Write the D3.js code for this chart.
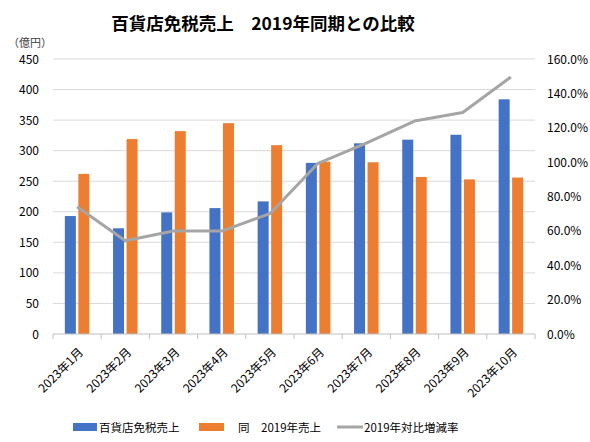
<!DOCTYPE html>
<html><head><meta charset="utf-8">
<script src="https://cdn.jsdelivr.net/npm/d3@7"></script>
<style>body{margin:0;background:#fff}svg{display:block}text{font-family:"Noto Sans CJK JP","Noto Sans",sans-serif}</style>
</head><body>
<svg id="c" width="590" height="442"></svg>
<script>
const categories = ["2023年1月","2023年2月","2023年3月","2023年4月","2023年5月","2023年6月","2023年7月","2023年8月","2023年9月","2023年10月"];
const sales2023 = [193, 173, 199, 206, 217, 280, 312, 318, 326, 384];
const sales2019 = [262, 319, 332, 345, 309, 282, 281, 257, 253, 256];
const ratio = [0.74, 0.543, 0.599, 0.599, 0.70, 0.993, 1.11, 1.239, 1.289, 1.495];
const leftTicks = [0,50,100,150,200,250,300,350,400,450];
const rightTicks = [0,0.2,0.4,0.6,0.8,1.0,1.2,1.4,1.6];
const seriesNames = ["百貨店免税売上","同　2019年売上","2019年対比増減率"];
const colors = ["#4472C4","#ED7D31","#A5A5A5"];

const svg = d3.select("#c");
const L = 53, R = 535, T = 59, B = 334;
const x = d3.scaleBand().domain(categories).range([L, R]);
const y = d3.scaleLinear().domain([0, 450]).range([B, T]);
const y2 = d3.scaleLinear().domain([0, 1.6]).range([B, T]);

svg.append("text").attr("x", 263).attr("y", 30).attr("text-anchor","middle")
  .attr("font-size", 17.5).attr("font-weight","bold").attr("fill","#000")
  .text("百貨店免税売上　2019年同期との比較");
svg.append("text").attr("x", 8).attr("y", 47).attr("font-size", 11).attr("fill","#404040").text("（億円）");

// grid
svg.append("g").selectAll("line").data(leftTicks.filter(d=>d>0)).join("line")
  .attr("x1", L).attr("x2", R).attr("y1", d=>y(d)).attr("y2", d=>y(d))
  .attr("stroke","#d9d9d9").attr("stroke-width",1);

// left axis labels
svg.append("g").selectAll("text").data(leftTicks).join("text")
  .attr("x", 39).attr("y", d=>y(d)+4.5).attr("text-anchor","end")
  .attr("font-size", 12).attr("fill","#000").text(d=>d);
// right axis labels
svg.append("g").selectAll("text").data(rightTicks).join("text")
  .attr("x", 547).attr("y", d=>y2(d)+4.5).attr("text-anchor","start")
  .attr("font-size", 12).attr("fill","#000").text(d=>(d*100).toFixed(1)+"%");

// bars
const bw = 11, gap = 2.5;
const g = svg.append("g");
g.selectAll("rect.a").data(categories).join("rect").attr("class","a")
  .attr("x", d=>x(d)+x.bandwidth()/2 - gap/2 - bw)
  .attr("y", (d,i)=>y(sales2023[i])).attr("width", bw)
  .attr("height", (d,i)=>B - y(sales2023[i])).attr("fill", colors[0]);
g.selectAll("rect.b").data(categories).join("rect").attr("class","b")
  .attr("x", d=>x(d)+x.bandwidth()/2 + gap/2)
  .attr("y", (d,i)=>y(sales2019[i])).attr("width", bw)
  .attr("height", (d,i)=>B - y(sales2019[i])).attr("fill", colors[1]);

// bottom axis
const ax = svg.append("g");
ax.append("line").attr("x1", L).attr("x2", R).attr("y1", B).attr("y2", B).attr("stroke","#bfbfbf");
ax.selectAll("line.t").data(d3.range(categories.length+1)).join("line").attr("class","t")
  .attr("x1", i=>L + i*x.step()).attr("x2", i=>L + i*x.step())
  .attr("y1", B).attr("y2", B+5).attr("stroke","#bfbfbf");
ax.selectAll("text").data(categories).join("text")
  .attr("transform", d=>`translate(${x(d)+x.bandwidth()/2+4},${B+16}) rotate(-45)`)
  .attr("text-anchor","end").attr("dy","0.35em")
  .attr("font-size", 12).attr("fill","#000").text(d=>d);

// line
const line = d3.line().x((d,i)=>x(categories[i])+x.bandwidth()/2).y(d=>y2(d));
svg.append("path").datum(ratio).attr("d", line).attr("fill","none")
  .attr("stroke", colors[2]).attr("stroke-width", 3).attr("stroke-linejoin","round");

// legend
const ly = 427;
const lg = svg.append("g");
lg.append("rect").attr("x",73).attr("y",ly-4).attr("width",24).attr("height",8).attr("fill",colors[0]);
lg.append("text").attr("x",99).attr("y",ly+4.5).attr("font-size",11.5).attr("fill","#000").text(seriesNames[0]);
lg.append("rect").attr("x",199).attr("y",ly-4).attr("width",25).attr("height",8).attr("fill",colors[1]);
lg.append("text").attr("x",238).attr("y",ly+4.5).attr("font-size",11.5).attr("fill","#000").text(seriesNames[1]);
lg.append("line").attr("x1",337).attr("x2",363).attr("y1",ly).attr("y2",ly).attr("stroke",colors[2]).attr("stroke-width",3);
lg.append("text").attr("x",364).attr("y",ly+4.5).attr("font-size",11.5).attr("fill","#000").text(seriesNames[2]);
</script>
</body></html>
